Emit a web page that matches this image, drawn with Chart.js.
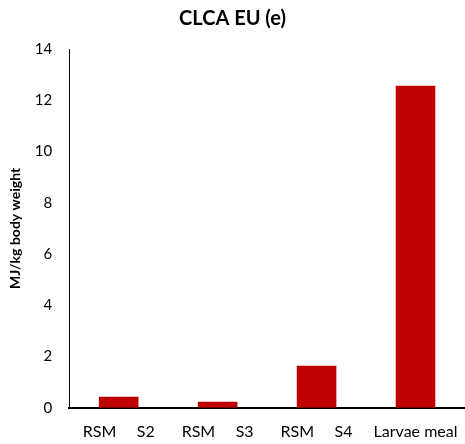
<!DOCTYPE html>
<html>
<head>
<meta charset="utf-8">
<script src="https://cdn.jsdelivr.net/npm/chart.js@4/dist/chart.umd.min.js"></script>
<style>
  html, body { margin: 0; padding: 0; background: #fff; }
  #wrap { width: 465px; height: 444px; }
</style>
</head>
<body>
<div id="wrap"><canvas id="chart"></canvas></div>
<script>
var categories = ["RSM     S2", "RSM     S3", "RSM     S4", "Larvae meal"];
var values = [0.43, 0.24, 1.64, 12.57];
var yTicks = [0, 2, 4, 6, 8, 10, 12, 14];

Chart.defaults.font.family = "Lato, sans-serif";
Chart.defaults.color = "#000";

var ctx = document.getElementById("chart").getContext("2d");
new Chart(ctx, {
    type: 'bar',
    data: {
        labels: categories,
        datasets: [{
            data: values,
            backgroundColor: "#C00000",
            barPercentage: 0.4,
            categoryPercentage: 1.0
        }]
    },
    options: {
        responsive: true,
        maintainAspectRatio: false,
        animation: false,
        layout: { padding: { top: 7, right: 0, bottom: -3, left: 0 } },
        plugins: {
            legend: { display: false },
            tooltip: { enabled: false },
            title: {
                display: true,
                text: "CLCA EU (e)",
                font: { size: 20, weight: 'bold' },
                padding: { top: 0, bottom: 18 }
            }
        },
        scales: {
            x: {
                grid: { display: false },
                border: { display: true, color: "#000", width: 2 },
                ticks: { font: { size: 16 }, padding: 6, maxRotation: 0 }
            },
            y: {
                min: 0,
                max: 14,
                afterBuildTicks: function (scale) {
                    scale.ticks = yTicks.map(function (v) { return { value: v }; });
                },
                grid: { display: false },
                border: { display: true, color: "#000", width: 1 },
                ticks: { font: { size: 15 }, padding: 9 },
                title: {
                    display: true,
                    text: "MJ/kg body weight",
                    font: { size: 14, weight: 'bold' },
                    padding: { top: 7, bottom: 2 }
                }
            }
        }
    }
});
</script>
</body>
</html>
